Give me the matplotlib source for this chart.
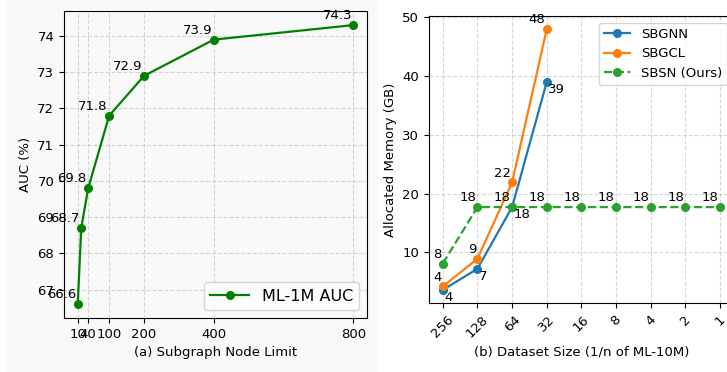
import matplotlib
matplotlib.use("Agg")
import matplotlib.pyplot as plt
from matplotlib.patches import Rectangle

# (a) subgraph node limit vs AUC on ML-1M
node_limits = [10, 20, 40, 100, 200, 400, 800]
auc = [66.6, 68.7, 69.8, 71.8, 72.9, 73.9, 74.3]
node_ticks = [10, 40, 100, 200, 400, 800]

# (b) dataset size vs allocated memory
sizes = ["256", "128", "64", "32", "16", "8", "4", "2", "1"]
sbgnn = [3.6, 7.2, 17.7, 39.0]
sbgcl = [4.2, 8.9, 21.9, 48.0]
sbsn = [8.1, 17.7, 17.7, 17.7, 17.7, 17.7, 17.7, 17.7, 17.7]

fig = plt.figure(figsize=(7.27, 3.72), dpi=100)
fig.patch.set_facecolor("white")
fig.patches.append(Rectangle((0.008, 0), 0.512, 1, transform=fig.transFigure,
                             facecolor="#f9f9f9", edgecolor="none", zorder=-10))

ax1 = fig.add_axes([0.088, 0.145, 0.417, 0.825])
ax1.set_facecolor("#f9f9f9")
ax1.plot(node_limits, auc, color="green", marker="o", lw=1.6, ms=5.5, label="ML-1M AUC")
for x, y in zip(node_limits, auc):
    ax1.annotate(f"{y:.1f}", (x, y), xytext=(-1, 2), textcoords="offset points",
                 ha="right", va="bottom", fontsize=9.5)
ax1.set_xticks(node_ticks)
ax1.set_yticks(range(67, 75))
ax1.grid(True, ls="--", alpha=0.5)
ax1.set_xlabel("(a) Subgraph Node Limit", fontsize=9.5)
ax1.set_ylabel("AUC (%)", fontsize=9.5)
ax1.tick_params(labelsize=9.5)
ax1.legend(loc="lower right", fontsize=11.5, handlelength=2.4)

ax2 = fig.add_axes([0.590, 0.1855, 0.4195, 0.7715])
xs = range(len(sizes))
ax2.plot(list(xs)[:len(sbgnn)], sbgnn, marker="o", lw=1.6, ms=5.5, color="#1f77b4", label="SBGNN")
ax2.plot(list(xs)[:len(sbgcl)], sbgcl, marker="o", lw=1.6, ms=5.5, color="#ff7f0e", label="SBGCL")
ax2.plot(list(xs), sbsn, marker="o", lw=1.6, ms=5.5, ls="--", color="#2ca02c", label="SBSN (Ours)")
for x, y in zip(xs, sbgnn):
    ax2.annotate(f"{y:.0f}", (x, y), xytext=(1, -1), textcoords="offset points",
                 ha="left", va="top", fontsize=9.5)
for x, y in zip(xs, sbgcl):
    ax2.annotate(f"{y:.0f}", (x, y), xytext=(-1, 2), textcoords="offset points",
                 ha="right", va="bottom", fontsize=9.5)
for x, y in zip(xs, sbsn):
    ax2.annotate(f"{y:.0f}", (x, y), xytext=(-1, 2), textcoords="offset points",
                 ha="right", va="bottom", fontsize=9.5)
ax2.set_xticks(list(xs))
ax2.set_xticklabels(sizes, rotation=45)
ax2.grid(True, ls="--", alpha=0.5)
ax2.set_xlabel("(b) Dataset Size (1/n of ML-10M)", fontsize=9.5)
ax2.set_ylabel("Allocated Memory (GB)", fontsize=9.5)
ax2.tick_params(labelsize=9.5)
ax2.legend(loc="upper right", fontsize=9.5)

fig.savefig("out.png", dpi=100)
